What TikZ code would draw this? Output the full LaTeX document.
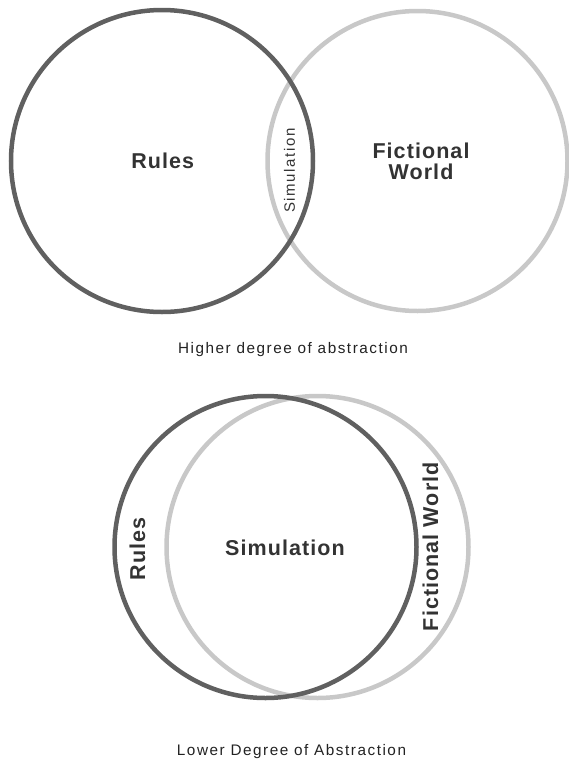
\documentclass[tikz,border=0pt]{standalone}
\usepackage{fontspec}
\setmainfont{Liberation Sans}
\newfontfamily\labfont[LetterSpace=5]{Liberation Sans}
\newfontfamily\capfont[LetterSpace=10]{Liberation Sans}
\newfontfamily\smallfont[LetterSpace=11]{Liberation Sans}
\definecolor{darkring}{HTML}{606060}
\definecolor{lightring}{HTML}{C8C8C8}
\definecolor{labtext}{HTML}{333333}
\definecolor{captext}{HTML}{222222}
\begin{document}
\begin{tikzpicture}[x=1pt,y=-1pt,
  darkc/.style={draw=darkring,line width=4.5pt},
  lightc/.style={draw=lightring,line width=4.5pt},
  biglab/.style={inner sep=0pt,text=labtext,font=\labfont\bfseries\fontsize{21.5}{21}\selectfont,align=center},
  smalllab/.style={inner sep=0pt,text=labtext,font=\smallfont\fontsize{15}{15}\selectfont},
  caplab/.style={inner sep=0pt,anchor=base,text=captext,font=\capfont\fontsize{15.3}{17}\selectfont}]
\useasboundingbox (0,0) rectangle (569,761);
% top diagram
\draw[lightc] (417.5,161) circle (150);
\draw[darkc] (162,161) circle (151);
\node[biglab] (rulesA) at (162.7,160.5) {Rules};
\node[biglab] (fictA) at (421,161.7) {Fictional\\World};
\node[smalllab,rotate=90] (simA) at (289.5,170.5) {Simulation};
\node[caplab] (capA) at (293,353) {Higher degree of abstraction};
% bottom diagram
\draw[lightc] (317.5,547) circle (151);
\draw[darkc] (265.5,547) circle (151);
\node[biglab] (simB) at (285,547.5) {Simulation};
\node[biglab,rotate=90] (rulesB) at (137.5,549) {Rules};
\node[biglab,rotate=90] (fictB) at (430.5,546.7) {Fictional World};
\node[caplab] (capB) at (291.5,755.5) {Lower Degree of Abstraction};
\end{tikzpicture}
\end{document}
